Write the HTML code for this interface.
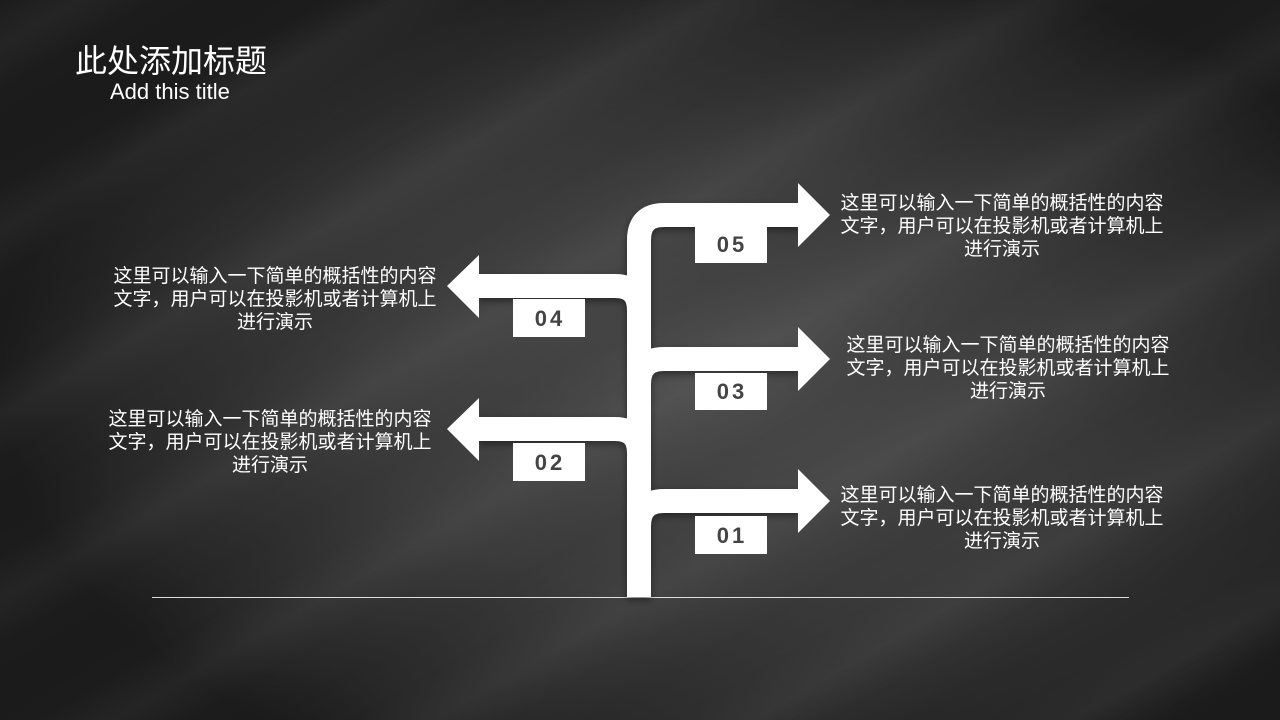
<!DOCTYPE html>
<html><head><meta charset="utf-8"><style>
html,body{margin:0;padding:0}
body{width:1280px;height:720px;overflow:hidden;position:relative;font-family:"Liberation Sans","Noto Sans CJK SC",sans-serif;
background:radial-gradient(ellipse 720px 440px at 720px 380px,#4d4d4d 0%,#3c3c3c 50%,#282828 85%,#1c1c1c 100%);}
.streak{position:absolute;inset:0;background:repeating-linear-gradient(150deg,rgba(255,255,255,0) 0px,rgba(255,255,255,0.04) 40px,rgba(255,255,255,0) 80px,rgba(0,0,0,0.05) 120px,rgba(255,255,255,0) 160px);}
.t{position:absolute;color:#fff;white-space:nowrap}
.d{position:absolute;color:#fff;font-size:19px;line-height:23px;text-align:center;width:350px}
</style></head><body>
<div class="streak"></div>
<div class="t" style="left:75px;top:36px;font-size:32px;">此处添加标题</div>
<div class="t" style="left:110px;top:79px;font-size:22px;">Add this title</div>
<svg width="1280" height="720" style="position:absolute;left:0;top:0">
<defs><filter id="sh" x="-20%" y="-20%" width="140%" height="140%"><feDropShadow dx="0" dy="3" stdDeviation="4" flood-color="#000" flood-opacity="0.45"/></filter></defs>
<line x1="152" y1="597.5" x2="1129" y2="597.5" stroke="#ddd" stroke-width="1"/>
<g fill="none" stroke="#fff" stroke-width="24" filter="url(#sh)">
<path d="M639,597 V240 Q639,215 664,215 H800"/>
<path d="M639,597 V310 Q639,286 615,286 H478"/>
<path d="M639,597 V384 Q639,359 664,359 H800"/>
<path d="M639,597 V453 Q639,429 615,429 H478"/>
<path d="M639,597 V526 Q639,501 664,501 H800"/>
</g>
<g fill="#fff">
<polygon points="798,183 830,215 798,247"/>
<polygon points="798,327 830,359 798,391"/>
<polygon points="798,469 830,501 798,533"/>
<polygon points="479,255 447,286 479,318"/>
<polygon points="479,398 447,429 479,461"/>
<rect x="695" y="226" width="72" height="37"/>
<rect x="513" y="299" width="72" height="38"/>
<rect x="695" y="373" width="72" height="37"/>
<rect x="513" y="443" width="72" height="38"/>
<rect x="695" y="516" width="72" height="38"/>
</g>
<g fill="#444" font-family="Liberation Sans,sans-serif" font-weight="bold" font-size="22" text-anchor="middle" letter-spacing="3">
<text x="732" y="252">05</text>
<text x="550" y="326">04</text>
<text x="732" y="399">03</text>
<text x="550" y="470">02</text>
<text x="732" y="543">01</text>
</g>
</svg>
<div class="d" style="left:827px;top:192px;">这里可以输入一下简单的概括性的内容<br>文字，用户可以在投影机或者计算机上<br>进行演示</div>
<div class="d" style="left:100px;top:265px;">这里可以输入一下简单的概括性的内容<br>文字，用户可以在投影机或者计算机上<br>进行演示</div>
<div class="d" style="left:833px;top:334px;">这里可以输入一下简单的概括性的内容<br>文字，用户可以在投影机或者计算机上<br>进行演示</div>
<div class="d" style="left:95px;top:408px;">这里可以输入一下简单的概括性的内容<br>文字，用户可以在投影机或者计算机上<br>进行演示</div>
<div class="d" style="left:827px;top:484px;">这里可以输入一下简单的概括性的内容<br>文字，用户可以在投影机或者计算机上<br>进行演示</div>
</body></html>
